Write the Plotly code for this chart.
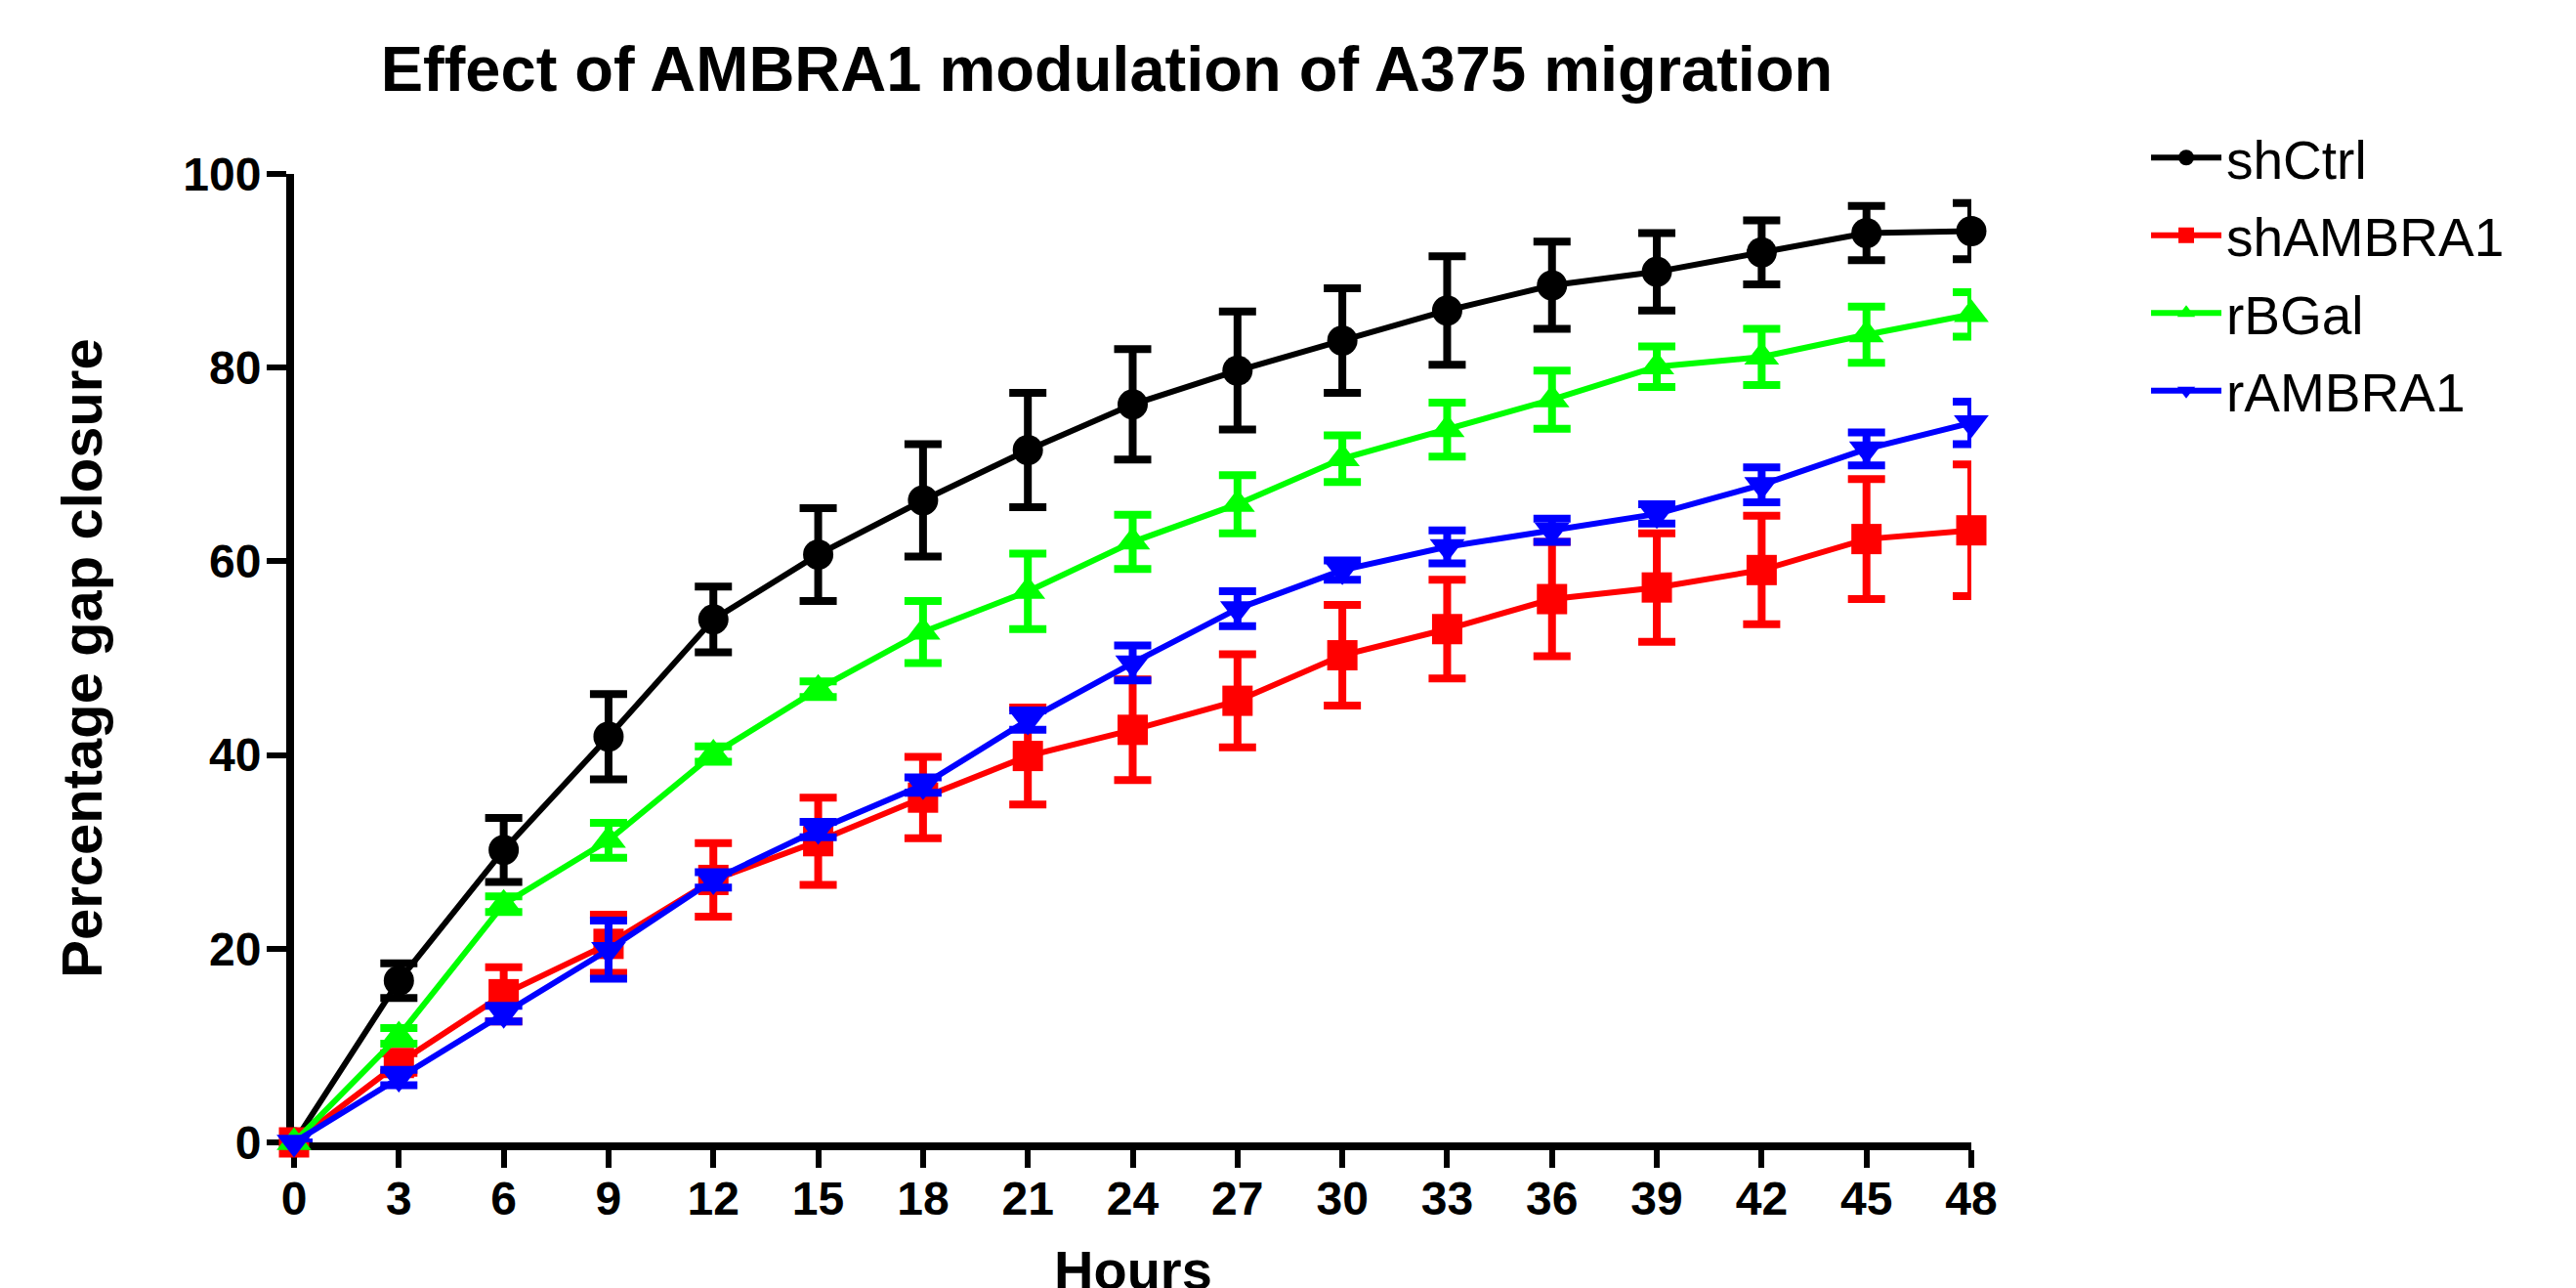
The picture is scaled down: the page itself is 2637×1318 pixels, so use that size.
import plotly.graph_objects as go

hours = [0, 3, 6, 9, 12, 15, 18, 21, 24, 27, 30, 33, 36, 39, 42, 45, 48]
x_ticks = hours
y_ticks = [0, 20, 40, 60, 80, 100]

shCtrl = [0, 16.7, 30.2, 41.9, 54.0, 60.7, 66.3, 71.5, 76.2, 79.7, 82.8, 85.9, 88.5, 89.9, 91.9, 93.9, 94.1]
shCtrl_err = [0, 1.8, 3.3, 4.4, 3.4, 4.8, 5.8, 5.9, 5.7, 6.1, 5.4, 5.6, 4.5, 4.0, 3.3, 2.8, 2.9]
shAMBRA1 = [0, 8.2, 15.3, 20.5, 27.1, 31.1, 35.6, 39.9, 42.6, 45.6, 50.3, 53.0, 56.1, 57.3, 59.1, 62.3, 63.2]
shAMBRA1_err = [0, 1.0, 2.8, 3.0, 3.8, 4.5, 4.2, 5.0, 5.2, 4.8, 5.2, 5.1, 5.9, 5.6, 5.6, 6.2, 6.8]
rBGal = [0, 11.0, 24.6, 31.2, 40.1, 46.8, 52.7, 56.9, 62.0, 65.9, 70.6, 73.6, 76.7, 80.1, 81.1, 83.4, 85.5]
rBGal_err = [0, 0.8, 0.8, 1.8, 0.8, 0.8, 3.2, 3.9, 2.8, 3.0, 2.4, 2.8, 3.0, 2.1, 2.9, 2.9, 2.3]
rAMBRA1 = [0, 6.7, 13.3, 19.9, 27.1, 32.3, 36.9, 43.6, 49.5, 55.1, 59.1, 61.5, 63.2, 64.9, 67.9, 71.6, 74.3]
rAMBRA1_err = [0, 0.8, 0.8, 3.0, 0.8, 0.8, 0.8, 1.0, 1.8, 1.8, 1.0, 1.7, 1.2, 1.0, 1.8, 1.7, 2.2]

series = [
    ("shCtrl", shCtrl, shCtrl_err, "#000000", "circle"),
    ("shAMBRA1", shAMBRA1, shAMBRA1_err, "#FF0000", "square"),
    ("rBGal", rBGal, rBGal_err, "#00FF00", "triangle-up"),
    ("rAMBRA1", rAMBRA1, rAMBRA1_err, "#0000FF", "triangle-down"),
]

W, H = 2637, 1318
L, R, T, B = 301, 619, 178, 149
FONT = "Liberation Sans, Arial, sans-serif"

fig = go.Figure()
for name, vals, errs, col, sym in series:
    fig.add_trace(go.Scatter(
        x=hours, y=vals, name=name, mode="lines+markers",
        legendgroup=name,
        line=dict(color=col, width=6),
        marker=dict(color=col, symbol=sym, size=31, line=dict(width=0)),
        error_y=dict(type="data", array=errs, visible=True, color=col,
                     thickness=8, width=19),
        cliponaxis=False,
    ))

plot_w = W - L - R
plot_h = H - T - B

fig.update_layout(
    width=W, height=H,
    margin=dict(l=L, r=R, t=T, b=B, autoexpand=False),
    paper_bgcolor="white", plot_bgcolor="white",
    font=dict(family=FONT, color="black"),
    title=dict(
        text="<b>Effect of AMBRA1 modulation of A375 migration</b>",
        font=dict(family=FONT, size=65, color="black"),
        x=1133 / W, xref="container", xanchor="center",
        y=1 - 47 / H, yref="container", yanchor="top",
    ),
    showlegend=True,
    legend=dict(
        x=(2197 - L) / plot_w, xanchor="left",
        y=(H - B - 119) / plot_h, yanchor="top",
        font=dict(family=FONT, size=55, color="black"),
        bgcolor="rgba(0,0,0,0)",
        traceorder="grouped", tracegroupgap=5,
        itemsizing="trace", itemwidth=72,
    ),
    xaxis=dict(
        range=[0, 48], tickmode="array", tickvals=x_ticks,
        ticktext=[str(v) for v in x_ticks],
        showgrid=False, zeroline=False,
        showline=True, linecolor="black", linewidth=8,
        ticks="outside", ticklen=18, tickwidth=6, tickcolor="black",
        tickfont=dict(family=FONT, size=48, color="black", weight="bold"),
        ticklabelstandoff=-10,
        layer="below traces", automargin=False, fixedrange=True,
    ),
    yaxis=dict(
        range=[0, 100], tickmode="array", tickvals=y_ticks,
        ticktext=[str(v) for v in y_ticks],
        showgrid=False, zeroline=False,
        showline=True, linecolor="black", linewidth=8,
        ticks="outside", ticklen=20, tickwidth=6, tickcolor="black",
        tickfont=dict(family=FONT, size=48, color="black", weight="bold"),
        ticklabelstandoff=-4,
        title=dict(text="<b>Percentage gap closure</b>", font=dict(family=FONT, size=58, color="black"), standoff=67),
        layer="below traces", automargin=False, fixedrange=True,
    ),
    annotations=[dict(
        text="<b>Hours</b>", xref="paper", yref="paper",
        x=0.5, y=-(1266 - (H - B)) / plot_h, xanchor="center", yanchor="top",
        showarrow=False, font=dict(family=FONT, size=56, color="black"),
    )],
)

fig.write_html("out.html", config={"displayModeBar": False},
               post_script="document.body.style.margin='0px';")
